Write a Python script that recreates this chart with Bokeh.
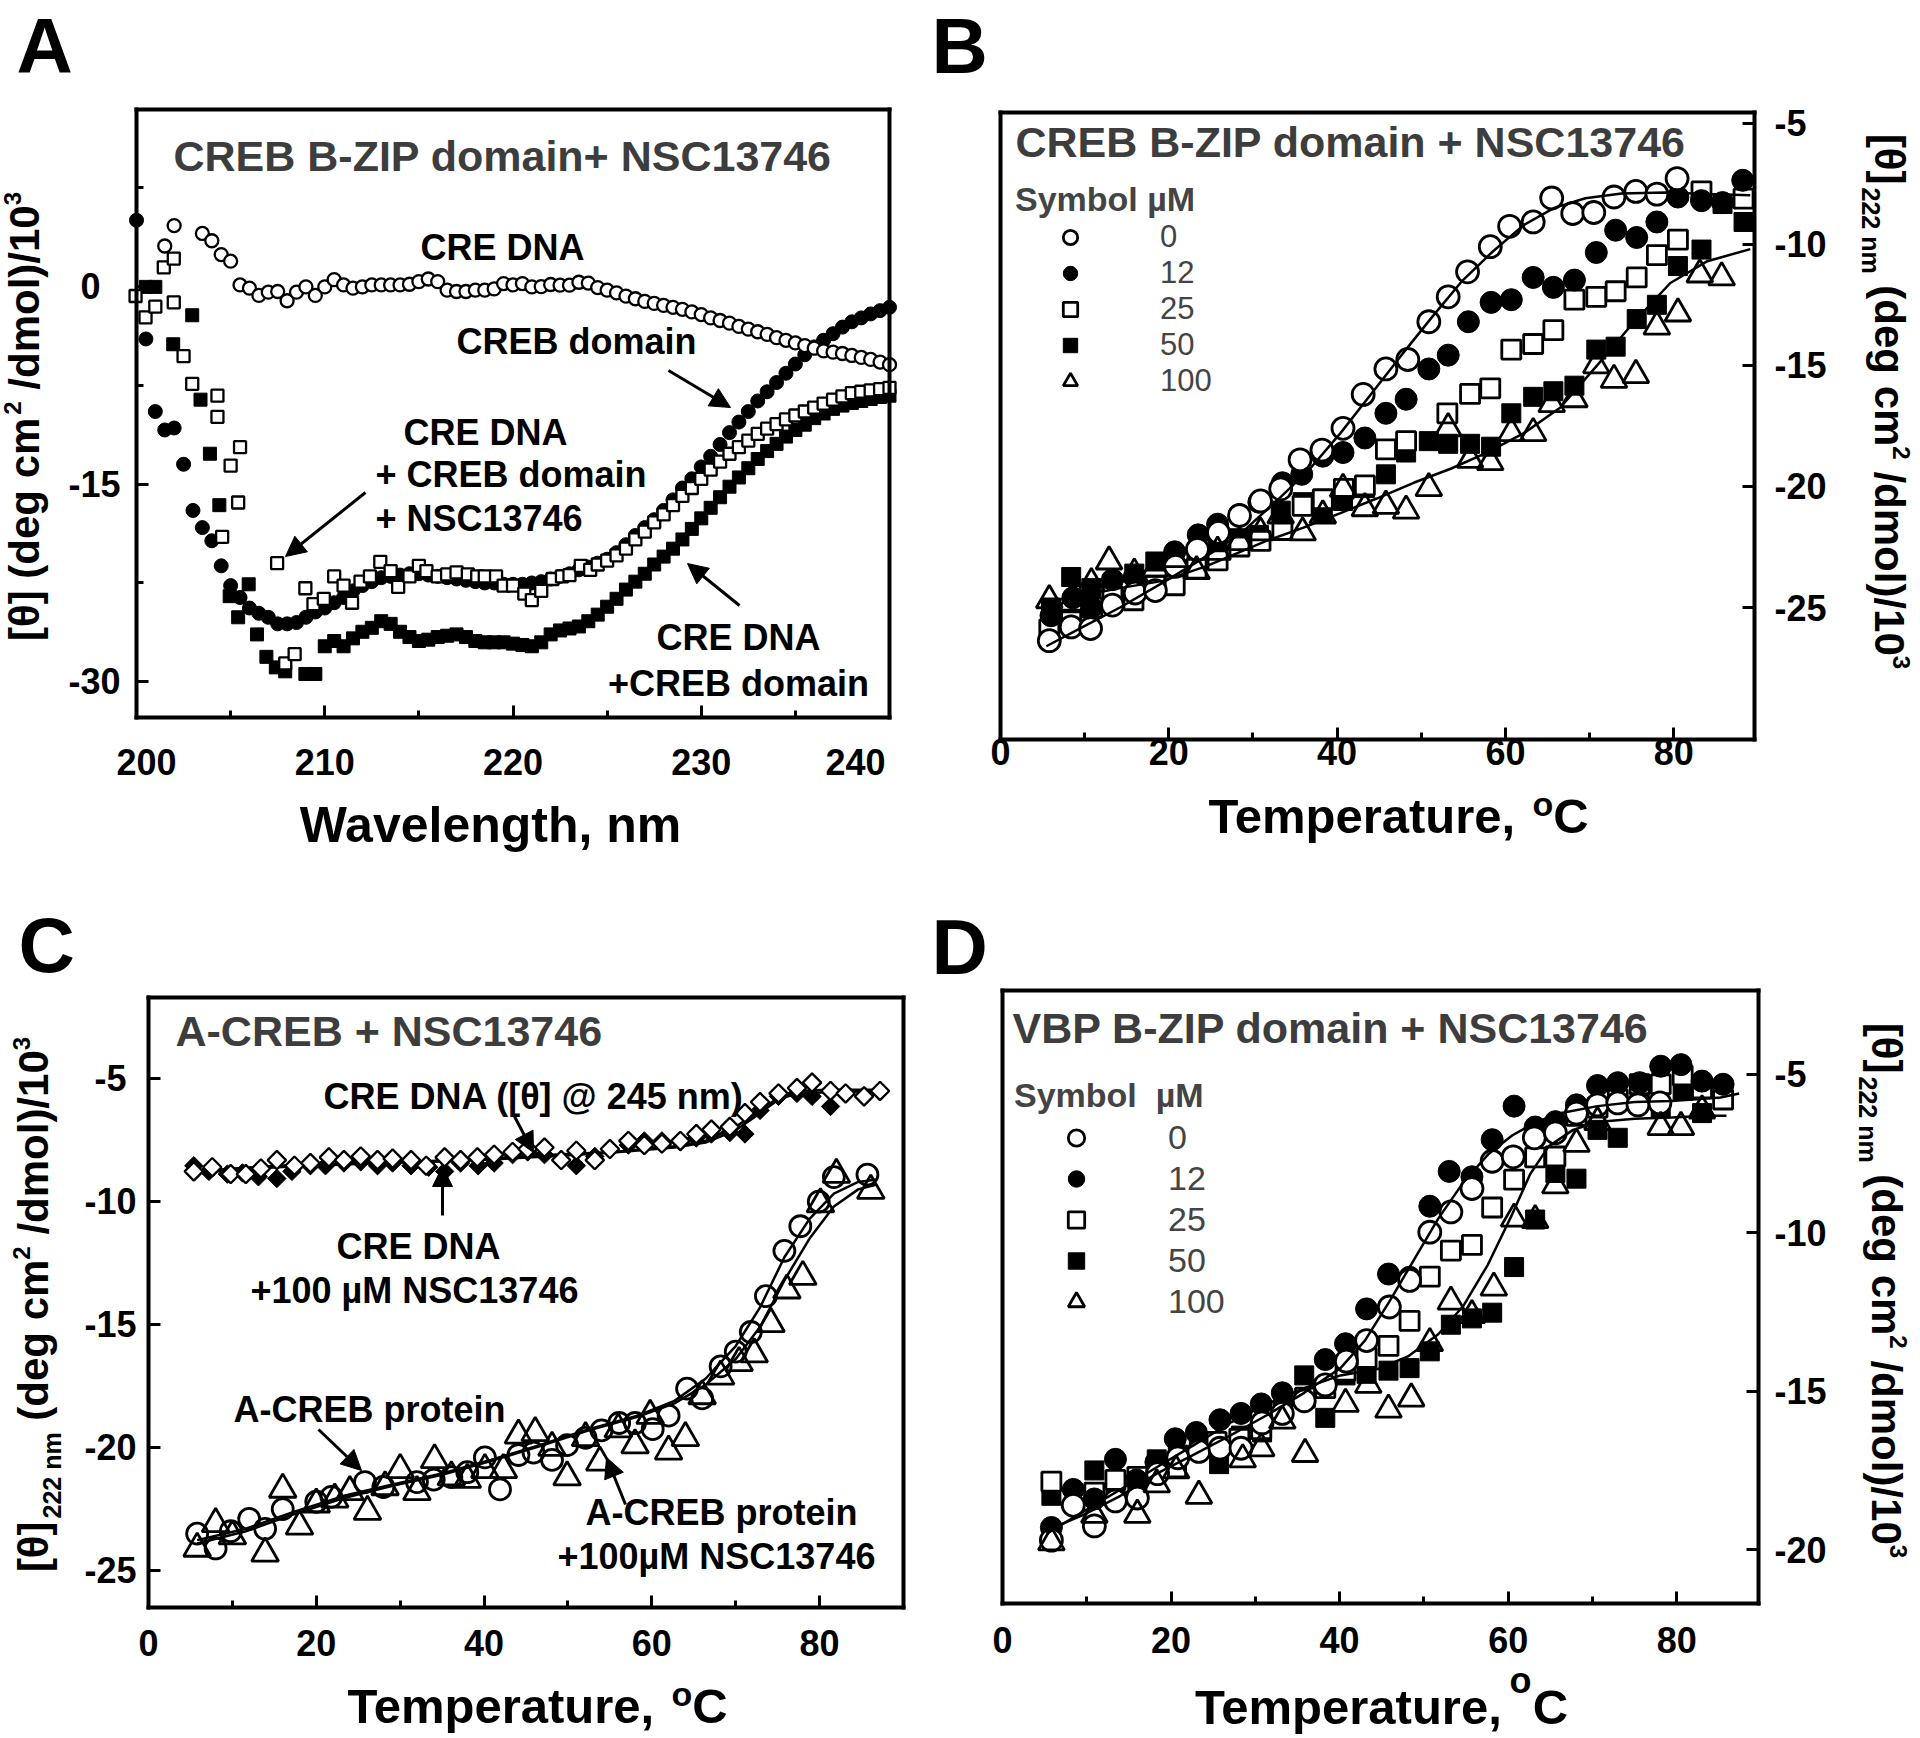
from bokeh.plotting import figure
from bokeh.models import (Range1d, FixedTicker, Label, Arrow, NormalHead, Legend, LegendItem, LinearAxis)
from bokeh.layouts import row, column
from bokeh.embed import file_html
from bokeh.resources import INLINE

FONT = "Liberation Sans"

# ---------------- Panel A data (wavelength scans) ----------------
A_dna_x = [201.5, 202.0, 203.5, 204.0, 204.5, 205.0, 205.5, 206.0, 206.5, 207.0, 207.5, 208.0, 208.5, 209.0,
           209.5, 210.0, 210.5, 211.0, 211.5, 212.0, 212.5, 213.0, 213.5, 214.0, 214.5, 215.0, 215.5, 216.0,
           216.5, 217.0, 217.5, 218.0, 218.5, 219.0, 219.5, 220.0, 220.5, 221.0, 221.5, 222.0, 222.5, 223.0,
           223.5, 224.0, 224.5, 225.0, 225.5, 226.0, 226.5, 227.0, 227.5, 228.0, 228.5, 229.0, 229.5, 230.0,
           230.5, 231.0, 231.5, 232.0, 232.5, 233.0, 233.5, 234.0, 234.5, 235.0, 235.5, 236.0, 236.5, 237.0,
           237.5, 238.0, 238.5, 239.0, 239.5, 240.0]
A_dna_y = [3.05, 4.6, 4.0, 3.45, 2.4, 1.9, 0.1, -0.15, -0.7, -0.45, -0.4, -1.1, -0.45, -0.05,
           -0.7, -0.05, 0.5, 0.1, -0.15, -0.05, 0.1, 0.1, 0.1, 0.1, 0.15, 0.35, 0.55, 0.35,
           -0.3, -0.4, -0.4, -0.3, -0.3, -0.2, 0.2, 0.1, 0.2, -0.05, -0.03, 0.13, 0.08, 0.08,
           0.3, 0.24, -0.1, -0.3, -0.5, -0.75, -0.95, -1.15, -1.3, -1.45, -1.6, -1.75, -1.95, -2.15,
           -2.4, -2.6, -2.8, -3.05, -3.25, -3.45, -3.65, -3.9, -4.1, -4.3, -4.5, -4.7, -4.9, -5.0,
           -5.1, -5.25, -5.4, -5.55, -5.75, -5.95]

A_creb_x = [200.0, 200.5, 201.0, 201.5, 202.0, 202.5, 203.0, 203.5, 204.0, 204.5, 205.0, 205.5, 206.0, 206.5,
            207.0, 207.5, 208.0, 208.5, 209.0, 209.5, 210.0, 210.5, 211.0, 211.5, 212.0, 212.5, 213.0, 213.5,
            214.0, 214.5, 215.0, 215.5, 216.0, 216.5, 217.0, 217.5, 218.0, 218.5, 219.0, 219.5, 220.0, 220.5,
            221.0, 221.5, 222.0, 222.5, 223.0, 223.5, 224.0, 224.5, 225.0, 225.5, 226.0, 226.5, 227.0, 227.5,
            228.0, 228.5, 229.0, 229.5, 230.0, 230.5, 231.0, 231.5, 232.0, 232.5, 233.0, 233.5, 234.0, 234.5,
            235.0, 235.5, 236.0, 236.5, 237.0, 237.5, 238.0, 238.5, 239.0, 239.5, 240.0]
A_creb_y = [5.0, -4.0, -9.5, -10.9, -10.75, -13.5, -17.0, -18.3, -19.3, -21.2, -22.7, -23.6, -24.4, -24.8,
            -25.1, -25.6, -25.6, -25.5, -25.1, -24.7, -24.4, -24.0, -23.6, -23.1, -22.7, -22.4, -22.1, -22.0,
            -21.9, -21.8, -21.8, -21.9, -22.0, -22.1, -22.2, -22.3, -22.4, -22.5, -22.5, -22.6, -22.6, -22.6,
            -22.5, -22.4, -22.2, -22.0, -21.8, -21.5, -21.3, -21.0, -20.7, -20.2, -19.6, -18.9, -18.3, -17.7,
            -17.0, -16.2, -15.3, -14.6, -13.7, -12.9, -12.0, -11.1, -10.3, -9.5, -8.7, -8.0, -7.3, -6.6,
            -5.9, -5.2, -4.6, -4.1, -3.6, -3.1, -2.7, -2.4, -2.1, -1.85, -1.6]

A_nsc_x = [199.95, 200.48, 201.0, 201.45, 201.98, 201.98, 202.5, 202.96, 204.3, 204.3, 205.5, 205.0, 205.4,
           204.55, 207.47, 207.9, 208.4, 208.97, 209.4, 209.95, 210.5, 211.0, 211.45, 211.9, 212.4, 212.95,
           213.5, 213.9, 214.5, 215.0, 215.4, 216.0, 216.5, 217.0, 217.6, 218.1, 218.5, 219.1, 219.5, 220.0,
           220.6, 221.0, 221.5, 222.1, 222.6, 223.0, 223.6, 224.1, 224.5, 225.0, 225.5, 226.0, 226.5, 227.0,
           227.5, 228.0, 228.5, 229.0, 229.5, 230.0, 230.5, 231.0, 231.5, 232.0, 232.5, 233.0, 233.5, 234.0,
           234.5, 235.0, 235.5, 236.0, 236.5, 237.0, 237.5, 238.0, 238.5, 239.0, 239.5, 240.0]
A_nsc_y = [-0.74, -2.36, -1.55, 1.43, 2.1, -1.22, -5.3, -7.4, -8.3, -9.9, -12.2, -13.6, -16.4,
           -19.0, -21.0, -28.6, -27.9, -22.9, -24.1, -23.7, -22.0, -22.7, -24.0, -22.4, -22.0, -20.9,
           -21.6, -22.8, -22.0, -21.2, -21.6, -22.0, -21.85, -21.7, -21.85, -22.0, -22.0, -22.0, -22.7, -22.7,
           -23.3, -23.8, -23.1, -22.2, -22.0, -21.9, -21.2, -21.5, -21.1, -20.8, -20.4, -19.9, -19.2, -18.6,
           -17.9, -17.3, -16.6, -15.9, -15.3, -14.6, -13.9, -13.3, -12.7, -12.2, -11.7, -11.2, -10.8, -10.45,
           -10.1, -9.8, -9.5, -9.2, -8.9, -8.6, -8.35, -8.1, -8.0, -7.9, -7.8, -7.7]

A_dnacreb_x = [200.5, 201.0, 201.95, 202.96, 203.4, 203.9, 204.4, 204.95, 205.4, 205.96, 206.4, 206.9, 207.4,
               207.9, 208.97, 209.5, 210.0, 210.5, 211.0, 211.5, 212.0, 212.5, 213.0, 213.5, 214.0, 214.5,
               215.0, 215.5, 216.0, 216.5, 217.0, 217.5, 218.0, 218.5, 219.0, 219.5, 220.0, 220.5, 221.0,
               221.5, 222.0, 222.5, 223.0, 223.5, 224.0, 224.5, 225.0, 225.5, 226.0, 226.5, 227.0, 227.5,
               228.0, 228.5, 229.0, 229.5, 230.0, 230.5, 231.0, 231.5, 232.0, 232.5, 233.0, 233.5, 234.0,
               234.5, 235.0, 235.5, 236.0, 236.5, 237.0, 237.5, 238.0, 238.5, 239.0, 239.5, 240.0]
A_dnacreb_y = [-0.05, -0.05, -4.4, -2.2, -8.6, -12.7, -16.6, -23.5, -25.1, -22.6, -26.4, -28.1, -28.9,
               -29.2, -29.4, -29.4, -27.3, -26.9, -27.3, -26.7, -26.2, -25.9, -25.4, -25.6, -26.2, -26.6,
               -26.9, -26.8, -26.6, -26.5, -26.4, -26.6, -26.9, -27.0, -27.0, -27.0, -27.1, -27.2, -27.3,
               -27.0, -26.4, -26.1, -25.95, -25.8, -25.4, -24.9, -24.3, -23.7, -23.0, -22.4, -21.8, -21.1,
               -20.5, -19.9, -19.2, -18.4, -17.6, -16.8, -16.0, -15.2, -14.5, -13.8, -13.1, -12.5, -11.95,
               -11.4, -10.9, -10.5, -10.0, -9.65, -9.3, -9.05, -8.85, -8.7, -8.55, -8.4, -8.3]

# ---------------- Panel B data (CREB B-ZIP melts) ----------------
B_0_x = [5.8, 8.4, 10.7, 13.3, 16.0, 18.4, 20.8, 23.4, 25.9, 28.4, 30.9, 33.3, 35.6, 38.2, 40.7, 43.1,
         45.8, 48.4, 50.9, 53.2, 55.5, 58.2, 60.5, 63.3, 65.5, 68.0, 70.5, 72.9, 75.5, 78.0, 80.4]
B_0_y = [-26.37, -25.8, -25.87, -24.9, -24.4, -24.3, -23.3, -22.6, -21.9, -21.2, -20.6, -20.1, -18.9, -18.5,
         -17.6, -16.2, -15.15, -14.76, -13.2, -12.17, -11.14, -10.1, -9.26, -9.08, -8.09, -8.73, -8.69, -8.05,
         -7.82, -7.93, -7.29]
B_12_x = [6.0, 8.6, 10.8, 13.3, 15.9, 20.7, 23.5, 25.8, 28.4, 30.7, 33.5, 35.8, 38.3, 40.7, 43.3, 45.8, 48.2,
          50.9, 53.2, 55.6, 58.3, 60.7, 63.3, 65.7, 68.2, 70.8, 73.1, 75.6, 78.0, 80.5, 83.3, 85.8, 88.2]
B_12_y = [-25.34, -24.6, -25.0, -23.85, -23.74, -22.7, -22.0, -21.56, -21.17, -20.65, -19.85, -19.5, -18.75,
          -18.6, -18.0, -16.98, -16.4, -15.15, -14.58, -13.2, -12.4, -12.29, -11.37, -11.78, -11.48, -10.34,
          -9.42, -9.72, -9.08, -8.05, -8.2, -8.28, -7.36]
B_25_x = [5.8, 8.4, 10.9, 13.3, 15.8, 18.4, 20.7, 23.3, 25.8, 28.4, 30.9, 33.5, 35.9, 38.3, 40.8, 43.3, 45.8,
          48.2, 53.1, 55.8, 58.2, 60.7, 63.3, 65.7, 68.2, 70.8, 73.1, 75.6, 78.0, 80.5, 83.3, 88.3]
B_25_y = [-25.9, -25.57, -25.0, -24.54, -24.7, -24.1, -24.08, -23.4, -23.05, -22.48, -22.25, -21.8, -20.8,
          -20.53, -20.1, -19.96, -18.47, -18.13, -16.98, -16.18, -15.95, -14.35, -14.12, -13.55, -12.29, -12.17,
          -11.94, -11.37, -10.45, -9.81, -7.82, -8.12]
B_50_x = [6.0, 8.4, 10.8, 13.3, 15.9, 18.4, 20.7, 23.3, 25.8, 28.4, 30.7, 33.3, 35.9, 38.3, 40.7, 43.3, 45.8,
          48.2, 50.9, 53.2, 55.8, 58.3, 60.7, 63.3, 65.7, 68.2, 70.8, 73.1, 75.6, 78.0, 80.5, 83.3, 85.8, 88.3]
B_50_y = [-25.0, -23.74, -24.2, -24.0, -23.6, -23.1, -23.4, -22.8, -22.5, -22.14, -22.0, -21.0, -20.65, -21.1,
          -20.6, -20.07, -19.5, -18.6, -18.13, -18.24, -18.24, -18.36, -16.98, -16.3, -16.07, -15.84, -14.35,
          -14.23, -13.09, -12.5, -10.9, -10.22, -8.34, -9.08]
B_100_x = [5.8, 8.4, 10.8, 12.9, 15.9, 18.4, 20.7, 23.3, 25.8, 28.4, 30.9, 33.3, 35.9, 38.3, 40.7, 43.3, 45.8,
           48.2, 50.9, 53.2, 55.8, 58.2, 60.7, 63.3, 65.5, 68.2, 70.8, 72.9, 75.5, 78.0, 80.5, 83.1, 85.7]
B_100_y = [-24.7, -24.8, -24.0, -23.1, -23.6, -23.4, -23.0, -23.5, -22.7, -22.3, -21.9, -21.2, -21.9, -21.2,
           -20.1, -20.9, -20.8, -21.0, -20.07, -17.6, -18.9, -19.0, -17.8, -17.8, -16.6, -16.4, -15.0, -15.6,
           -15.4, -13.4, -12.86, -11.25, -11.37]
B_fit0_x = [5.45, 9.8, 14.2, 19.3, 24.4, 28.7, 33.1, 36.7, 40.4, 44.0, 47.6, 51.3, 54.9, 58.5, 62.2, 65.8,
            69.5, 73.8, 78.9, 84.0, 89.1]
B_fit0_y = [-26.6, -25.8, -25.0, -23.97, -22.9, -21.9, -20.5, -19.3, -17.8, -16.2, -14.6, -13.0, -11.5, -10.3,
            -9.2, -8.5, -8.1, -7.9, -7.86, -7.93, -7.98]
B_fit100_x = [5.45, 9.8, 14.2, 19.3, 24.4, 31.6, 36.0, 40.4, 44.7, 49.1, 53.5, 57.8, 62.2, 66.5, 70.9, 75.3,
              79.6, 84.0, 89.1]
B_fit100_y = [-24.77, -24.5, -24.2, -23.9, -23.3, -22.25, -21.7, -21.1, -20.5, -19.85, -19.27, -18.6, -17.8,
              -16.75, -15.0, -13.2, -11.6, -10.7, -10.2]

# ---------------- Panel C data (A-CREB melts) ----------------
C_dna_x = [5.4, 7.6, 9.8, 11.6, 13.4, 15.3, 17.4, 19.3, 21.5, 23.3, 25.3, 27.3, 29.1, 31.3, 33.1, 35.3, 37.2,
           39.2, 41.2, 43.4, 45.2, 47.2, 49.2, 51.0, 53.2, 55.0, 57.2, 59.1, 61.2, 63.4, 65.3, 67.1, 69.3, 71.1,
           72.9, 75.1, 77.3, 79.1, 81.3, 83.1, 85.3, 87.2]
C_dna_y = [-8.77, -8.6, -8.88, -8.88, -8.65, -8.31, -8.54, -8.43, -8.2, -8.31, -8.16, -8.31, -8.25, -8.31,
           -8.54, -8.2, -8.31, -8.2, -8.09, -7.98, -7.86, -7.8, -8.31, -7.93, -8.31, -7.86, -7.53, -7.7, -7.64,
           -7.53, -7.25, -7.07, -6.96, -6.4, -5.95, -5.6, -5.38, -5.16, -5.5, -5.6, -5.72, -5.5]
C_dnansc_x = [5.4, 7.2, 9.4, 11.2, 13.1, 15.3, 17.1, 19.3, 21.1, 23.3, 25.3, 27.3, 29.1, 31.3, 33.4, 35.3,
              37.2, 39.3, 41.2, 43.4, 45.2, 47.2, 51.0, 53.2, 55.0, 57.2, 59.1, 61.2, 63.4, 65.3, 67.1, 69.3,
              71.1, 72.9, 75.1, 77.3, 79.1, 81.3]
C_dnansc_y = [-8.54, -8.77, -8.88, -8.83, -8.99, -9.06, -8.77, -8.54, -8.54, -8.43, -8.38, -8.54, -8.43, -8.54,
              -8.6, -8.77, -8.43, -8.54, -8.43, -8.09, -7.98, -8.09, -8.54, -8.16, -7.86, -7.7, -7.53, -7.53,
              -7.57, -7.41, -7.25, -7.19, -7.25, -6.29, -5.72, -5.6, -5.72, -6.13]
C_ac_x = [5.8, 8.0, 9.8, 12.0, 13.9, 16.0, 20.0, 21.8, 25.8, 28.0, 32.0, 34.0, 36.1, 38.0, 40.1, 41.9, 44.1,
          45.9, 48.1, 49.9, 52.1, 54.0, 56.1, 58.0, 60.1, 62.0, 64.2, 66.0, 68.2, 70.0, 71.8, 73.6, 75.8, 77.7,
          79.9, 81.7, 85.7]
C_ac_y = [-23.5, -24.1, -23.4, -22.9, -23.3, -22.5, -22.2, -22.0, -21.4, -21.6, -21.4, -21.3, -21.2, -21.0,
          -20.4, -21.7, -20.3, -20.2, -20.5, -19.9, -19.6, -19.3, -19.0, -19.0, -19.25, -18.7, -17.6, -18.0,
          -16.7, -16.1, -15.3, -13.84, -12.0, -11.0, -10.0, -9.0, -8.9]
C_acn_x = [5.8, 8.0, 10.0, 13.9, 16.0, 18.0, 20.0, 22.2, 24.0, 26.1, 28.2, 30.0, 32.0, 34.1, 36.1, 38.0, 40.1,
           42.3, 44.1, 46.1, 48.1, 49.9, 52.1, 53.8, 56.0, 58.0, 59.8, 62.0, 64.0, 66.0, 68.2, 70.4, 72.2, 74.2,
           76.1, 78.0, 80.1, 82.0, 86.1]
C_acn_y = [-24.1, -23.1, -23.6, -24.3, -21.7, -23.2, -22.3, -22.1, -21.8, -22.6, -21.6, -20.9, -21.8, -20.5,
           -21.2, -21.3, -20.9, -20.9, -19.5, -19.4, -20.0, -21.2, -19.6, -20.6, -19.25, -19.9, -18.7, -20.15,
           -19.6, -17.9, -17.1, -16.55, -16.2, -14.97, -13.6, -13.05, -10.1, -8.9, -9.55]
C_fitdna_x = [5.0, 15.3, 26.2, 37.2, 48.1, 55.4, 62.7, 66.4, 70.0, 72.9, 75.1, 77.3, 80.9, 87.5]
C_fitdna_y = [-8.77, -8.54, -8.43, -8.31, -8.09, -7.98, -7.75, -7.53, -6.96, -6.29, -5.77, -5.5, -5.45, -5.45]
C_fitdnansc_y = [-8.85, -8.6, -8.45, -8.35, -8.15, -8.0, -7.8, -7.6, -7.1, -6.4, -5.85, -5.6, -5.55, -5.5]
C_fitac_x = [5.8, 11.6, 17.4, 23.3, 29.1, 35.0, 40.8, 46.6, 52.5, 58.3, 62.7, 66.4, 70.0, 72.9, 75.8, 78.8,
             81.7, 84.6, 86.8]
C_fitac_y = [-23.76, -23.3, -22.6, -21.96, -21.5, -21.05, -20.5, -19.9, -19.25, -18.7, -18.1, -17.2, -15.87,
             -14.3, -12.26, -10.7, -9.67, -9.2, -9.1]
C_fitacn_y = [-23.9, -23.4, -22.7, -22.05, -21.55, -21.1, -20.55, -19.95, -19.3, -18.75, -18.2, -17.45, -16.4,
              -15.1, -13.2, -11.5, -10.2, -9.5, -9.3]

# ---------------- Panel D data (VBP B-ZIP melts) ----------------
D_0_x = [5.8, 8.4, 10.9, 13.4, 16.0, 18.4, 20.8, 23.3, 25.8, 28.3, 30.8, 33.2, 35.8, 38.3, 40.8, 43.2, 45.9,
         48.3, 50.7, 53.2, 55.7, 58.1, 60.6, 63.1, 65.6, 68.1, 70.6, 73.0, 75.4, 78.0]
D_0_y = [-19.7, -18.6, -19.25, -18.46, -18.37, -17.6, -17.1, -16.9, -16.8, -16.8, -16.0, -15.7, -15.3, -14.8,
         -14.05, -13.4, -12.34, -11.5, -9.98, -9.34, -8.6, -7.74, -7.6, -7.0, -6.84, -6.22, -5.96, -5.9, -5.96,
         -5.9]
D_12_x = [5.8, 8.4, 10.9, 13.4, 15.9, 18.2, 20.5, 23.0, 25.8, 28.3, 30.7, 33.2, 38.3, 40.7, 43.2, 45.8, 48.3,
          50.7, 53.0, 55.7, 58.1, 60.7, 63.2, 65.6, 68.1, 70.6, 73.0, 75.6, 78.1, 80.5, 83.0, 85.5]
D_12_y = [-19.3, -18.1, -18.4, -17.15, -17.8, -17.24, -16.5, -16.3, -15.9, -15.7, -15.4, -15.05, -14.0, -13.5,
          -12.4, -11.3, -11.4, -9.16, -8.06, -8.23, -7.06, -6.0, -6.66, -6.49, -5.96, -5.35, -5.26, -5.26,
          -4.74, -4.69, -5.21, -5.31]
D_25_x = [5.8, 10.9, 13.4, 16.0, 20.6, 25.4, 28.1, 30.7, 35.9, 38.3, 40.7, 43.2, 45.8, 48.3, 50.7, 53.2, 55.7,
          58.1, 60.7, 63.2, 65.6, 68.1, 70.6, 73.0, 75.6, 78.1, 80.7, 83.0, 85.5]
D_25_y = [-17.85, -18.2, -17.8, -17.7, -17.4, -16.6, -16.5, -16.2, -15.2, -14.9, -14.35, -13.95, -13.57, -12.78,
          -11.38, -10.56, -10.38, -9.2, -8.32, -7.62, -7.59, -6.31, -6.05, -5.79, -5.31, -5.31, -5.03, -5.44,
          -5.79]
D_50_x = [5.8, 10.9, 13.4, 16.0, 18.3, 20.8, 23.3, 25.7, 28.3, 30.8, 33.3, 35.8, 38.3, 40.7, 43.2, 45.8, 48.3,
          50.7, 53.2, 55.7, 58.1, 60.7, 63.2, 65.6, 68.1, 70.6, 73.0, 75.6, 78.1, 80.7, 83.0]
D_50_y = [-18.3, -17.5, -18.2, -17.9, -17.15, -17.0, -16.8, -17.3, -16.4, -16.3, -15.6, -14.5, -15.84, -14.5,
          -14.45, -14.35, -14.27, -13.74, -12.9, -12.7, -12.52, -11.08, -9.58, -8.11, -8.29, -6.75, -7.0, -5.61,
          -6.05, -5.52, -6.22]
D_100_x = [5.8, 10.9, 16.0, 18.3, 20.6, 23.3, 28.5, 30.7, 33.2, 35.9, 40.7, 43.4, 45.8, 48.5, 50.7, 53.2, 55.7,
           58.3, 60.7, 63.2, 65.6, 68.1, 70.6, 78.1, 80.5, 83.0]
D_100_y = [-19.77, -18.9, -18.9, -17.94, -17.5, -18.3, -17.15, -16.8, -15.93, -16.98, -15.4, -14.8, -15.58,
           -15.23, -13.48, -12.17, -12.6, -11.73, -9.55, -9.6, -8.5, -7.19, -6.5, -6.66, -6.66, -6.14]
D_fit0_x = [5.2, 9.6, 14.0, 18.3, 22.7, 27.0, 31.4, 35.8, 40.1, 43.0, 45.9, 48.8, 51.7, 54.7, 57.6, 60.5, 63.4,
            66.3, 70.6, 75.0, 79.4, 85.2, 87.4]
D_fit0_y = [-19.4, -18.9, -18.3, -17.6, -17.0, -16.4, -15.75, -15.05, -14.27, -13.4, -12.17, -10.86, -9.55,
            -8.4, -7.53, -6.92, -6.49, -6.22, -6.0, -5.87, -5.84, -5.73, -5.6]
D_fit100_x = [5.2, 9.6, 14.0, 18.3, 22.7, 27.0, 31.4, 35.8, 40.1, 44.5, 48.1, 51.7, 54.7, 57.6, 60.5, 62.6,
              64.8, 67.7, 70.6, 75.0, 79.4, 83.7, 85.9]
D_fit100_y = [-19.5, -18.8, -18.1, -17.4, -16.7, -16.0, -15.4, -14.9, -14.5, -14.3, -13.9, -13.2, -12.3, -11.0,
              -9.4, -8.15, -7.27, -6.75, -6.5, -6.4, -6.36, -6.3, -6.3]

LEGEND_LABELS = ["0", "12", "25", "50", "100"]

# ---------------- text metrics (Arial/Liberation bold, per 1000 em) ----------------
_W = {" ": 278, "!": 333, "(": 333, ")": 333, "+": 584, ",": 278, "-": 333, ".": 278, "/": 278, ":": 333,
      "@": 975, "[": 333, "]": 333, "\u03b8": 611, "\u00b5": 611, "\u00b0": 400}
for ch in "0123456789":
    _W[ch] = 556
_W.update(dict(zip("ABCDEFGHIJKLMNOPQRSTUVWXYZ",
                   [722, 722, 722, 722, 667, 611, 778, 722, 278, 556, 722, 611, 833, 722, 778, 667, 778, 722,
                    667, 611, 722, 667, 944, 667, 667, 611])))
_W.update(dict(zip("abcdefghijklmnopqrstuvwxyz",
                   [556, 611, 556, 611, 556, 333, 611, 611, 278, 278, 556, 278, 889, 611, 611, 611, 611, 389,
                    556, 333, 611, 556, 778, 556, 556, 500])))


def tw(s, size):
    return sum(_W.get(c, 556) for c in s) * size / 1000.0


NB = "\u00a0"
TITLE_COLOR = "#3d3d3d"


def style_axis(ax):
    ax.axis_line_width = 4
    ax.axis_line_color = "black"
    ax.axis_line_cap = "square"
    ax.major_tick_in = 12
    ax.major_tick_out = 0
    ax.minor_tick_in = 7
    ax.minor_tick_out = 0
    ax.major_tick_line_width = 3
    ax.minor_tick_line_width = 3
    ax.major_label_text_font = FONT
    ax.major_label_text_font_style = "bold"
    ax.major_label_text_font_size = "36px"
    ax.major_label_text_color = "black"


class Panel:
    """A figure whose frame is the whole figure; the boxed plot is drawn with fixed-location axes."""

    def __init__(self, area, box, xr, yr):
        fx0, fy0, fx1, fy1 = area
        L, R, T, B = box
        self.fx0, self.fy0 = fx0, fy0
        self.xr, self.yr = xr, yr
        self.kx = (xr[1] - xr[0]) / (R - L)
        self.ky = (yr[1] - yr[0]) / (B - T)
        self.X0 = xr[0] - (L - fx0) * self.kx
        X1 = xr[1] + (fx1 - R) * self.kx
        self.Y1 = yr[1] + (T - fy0) * self.ky
        Y0 = yr[0] - (fy1 - B) * self.ky
        p = figure(width=fx1 - fx0, height=fy1 - fy0, x_range=Range1d(self.X0, X1),
                   y_range=Range1d(Y0, self.Y1), output_backend="svg", toolbar_location=None,
                   x_axis_location=None, y_axis_location=None)
        p.min_border = 0
        p.min_border_left = 0
        p.min_border_right = 0
        p.min_border_top = 0
        p.min_border_bottom = 0
        p.title.visible = False
        p.grid.visible = False
        p.outline_line_color = None
        p.background_fill_color = "white"
        p.border_fill_color = "white"
        self.p = p

    def axes(self, xticker, yticker, yside, xover, yover, xstand, ystand):
        x0, x1 = self.xr
        y0, y1 = self.yr
        xb = LinearAxis(fixed_location=y0, bounds=(x0, x1), ticker=xticker)
        style_axis(xb)
        xb.major_label_overrides = xover
        xb.major_label_standoff = xstand
        self.p.add_layout(xb, "below")
        xt = LinearAxis(fixed_location=y1, bounds=(x0, x1), ticker=FixedTicker(ticks=[]))
        style_axis(xt)
        self.p.add_layout(xt, "above")
        ylab = LinearAxis(fixed_location=(x0 if yside == "left" else x1), bounds=(y0, y1), ticker=yticker)
        style_axis(ylab)
        ylab.major_label_overrides = yover
        ylab.major_label_standoff = ystand
        self.p.add_layout(ylab, yside)
        yo = LinearAxis(fixed_location=(x1 if yside == "left" else x0), bounds=(y0, y1), ticker=FixedTicker(ticks=[]))
        style_axis(yo)
        self.p.add_layout(yo, "right" if yside == "left" else "left")

    def d(self, px, py):
        return self.X0 + (px - self.fx0) * self.kx, self.Y1 - (py - self.fy0) * self.ky

    def text(self, px, py, s, size, align="left", color="black", style="bold", angle=0):
        x, y = self.d(px, py)
        self.p.add_layout(Label(x=x, y=y, text=s, text_font=FONT, text_font_size=f"{size}px",
                                text_font_style=style, text_color=color, text_align=align,
                                text_baseline="middle", angle=angle, angle_units="deg"))

    def rich(self, pieces, cx, cy, angle=0):
        # (cx, cy): middle of the whole string, on the centre line of the main text
        F = pieces[0][1]
        total = sum(tw(t, s) for t, s, _ in pieces)
        if angle == 0:
            adv, up = (1, 0), (0, -1)
        elif angle == 90:
            adv, up = (0, -1), (-1, 0)
        else:
            adv, up = (0, 1), (1, 0)
        pos = -total / 2.0
        for t, s, sh in pieces:
            lead = len(t) - len(t.lstrip(" "))
            pos += tw(" " * lead, s)
            body = t.strip(" ")
            off = sh + 0.35 * s - 0.35 * F
            if body:
                qx = cx + adv[0] * pos + up[0] * off
                qy = cy + adv[1] * pos + up[1] * off
                self.text(qx, qy, body, s, angle=angle)
            pos += tw(t.lstrip(" "), s)

    def arrow(self, x0, y0, x1, y1):
        a = self.d(x0, y0)
        b = self.d(x1, y1)
        self.p.add_layout(Arrow(x_start=a[0], y_start=a[1], x_end=b[0], y_end=b[1], line_width=3,
                                line_color="black",
                                end=NormalHead(size=20, fill_color="black", line_color="black", line_width=1)))


def hy(vals):
    return {v: (str(v) if v >= 0 else "-" + str(abs(v))) for v in vals}


YLAB_PIECES = [("[\u03b8]", 42, 0), ("222 nm", 25, -13), (" (deg cm", 42, 0), ("2", 24, 18),
               (" /dmol)/10", 42, 0), ("3", 24, 18)]
TEMP_PIECES = [("Temperature, ", 49, 0), ("o", 34, 17), ("C", 49, 0)]

SPLIT = 925  # column boundary between the left and right panels

# ======================= Panel A =======================
A = Panel((0, 0, SPLIT, 869), (136, 889, 109, 717), (200.0, 240.0), (-32.7, 13.4))
pa = A.p
A.axes(FixedTicker(ticks=[200, 210, 220, 230, 240], minor_ticks=[205, 215, 225, 235]),
       FixedTicker(ticks=[-30, -15, 0], minor_ticks=[-22.5, -7.5, 7.5]), "left",
       {200: NB + NB + "200", 210: "210", 220: "220", 230: "230", 240: "240" + NB * 4},
       {-30: "-30", -15: "-15", 0: "0" + NB + NB}, 24, 16)

pa.scatter(A_creb_x, A_creb_y, marker="circle", size=14, fill_color="black", line_color="black", line_width=1)
pa.scatter(A_dnacreb_x, A_dnacreb_y, marker="square", size=13, fill_color="black", line_color="black", line_width=1)
pa.scatter(A_nsc_x, A_nsc_y, marker="square", size=12, fill_color="white", line_color="black", line_width=2.3)
pa.scatter(A_dna_x, A_dna_y, marker="circle", size=13, fill_color="white", line_color="black", line_width=2.3)

A.text(16, 45, "A", 78)
A.text(173, 155, "CREB B-ZIP domain+ NSC13746", 43, color=TITLE_COLOR)
A.text(502, 247, "CRE DNA", 36, align="center")
A.text(576, 341, "CREB domain", 36, align="center")
A.text(485, 432, "CRE DNA", 36, align="center")
A.text(375, 474, "+ CREB domain", 36)
A.text(375, 518, "+ NSC13746", 36)
A.text(738, 637, "CRE DNA", 36, align="center")
A.text(738, 683, "+CREB domain", 36, align="center")
A.arrow(668, 370, 730, 407)
A.arrow(365, 492, 285, 556)
A.arrow(739, 605, 687, 563)
A.text(490, 824, "Wavelength, nm", 50, align="center")
A.rich([("[\u03b8] (deg cm", 42, 0), ("2", 24, 18), (" /dmol)/10", 42, 0), ("3", 24, 18)], 24, 416, angle=90)

# ======================= Panel B =======================
Bp = Panel((SPLIT, 0, 1918, 869), (1000, 1754, 112, 739), (0.0, 89.6), (-30.45, -4.56))
pb = Bp.p
Bp.axes(FixedTicker(ticks=[0, 20, 40, 60, 80], minor_ticks=[10, 30, 50, 70]),
        FixedTicker(ticks=[-25, -20, -15, -10, -5]), "right", {}, hy([-25, -20, -15, -10, -5]), -1, 20)

rb50 = pb.scatter(B_50_x, B_50_y, marker="square", size=19, fill_color="black", line_color="black", line_width=1)
rb25 = pb.scatter(B_25_x, B_25_y, marker="square", size=19, fill_color="white", line_color="black", line_width=2.8)
rb12 = pb.scatter(B_12_x, B_12_y, marker="circle", size=22, fill_color="black", line_color="black", line_width=1)
rb0 = pb.scatter(B_0_x, B_0_y, marker="circle", size=22, fill_color="white", line_color="black", line_width=2.8)
rb100 = pb.scatter(B_100_x, B_100_y, marker="triangle", size=26, fill_alpha=0, line_color="black", line_width=2.8)
pb.line(B_fit0_x, B_fit0_y, line_color="black", line_width=2.5)
pb.line(B_fit100_x, B_fit100_y, line_color="black", line_width=2.5)

legB = Legend(items=[LegendItem(label=l, renderers=[r]) for l, r in zip(LEGEND_LABELS, [rb0, rb12, rb25, rb50, rb100])],
              location=(1015 - SPLIT, 470), title="Symbol \u00b5M", title_text_font=FONT, title_text_font_size="34px",
              title_text_font_style="bold", title_standoff=0, label_text_font=FONT, label_text_font_size="31px",
              label_text_font_style="normal", glyph_width=110, glyph_height=36, label_height=36, spacing=0,
              padding=0, margin=0, label_standoff=35, border_line_alpha=0, background_fill_alpha=0)
pb.add_layout(legB)

Bp.text(931, 45, "B", 78)
Bp.text(1015, 141, "CREB B-ZIP domain + NSC13746", 43, color=TITLE_COLOR)
Bp.rich(TEMP_PIECES, 1398, 815)
Bp.rich(YLAB_PIECES, 1889, 401, angle=-90)

# ======================= Panel C =======================
Cp = Panel((0, 869, SPLIT, 1736), (148, 903, 997, 1607), (0.0, 90.0), (-26.5, -1.7))
pc = Cp.p
Cp.axes(FixedTicker(ticks=[0, 20, 40, 60, 80], minor_ticks=[10, 30, 50, 70]),
        FixedTicker(ticks=[-25, -20, -15, -10, -5]), "left", {},
        {-25: "-25", -20: "-20", -15: "-15", -10: "-10", -5: "-5" + NB}, 22, 12)

pc.line(C_fitdna_x, C_fitdna_y, line_color="black", line_width=2.5)
pc.line(C_fitdna_x, C_fitdnansc_y, line_color="black", line_width=2.5)
pc.line(C_fitac_x, C_fitac_y, line_color="black", line_width=2.5)
pc.line(C_fitac_x, C_fitacn_y, line_color="black", line_width=2.5)
pc.scatter(C_dnansc_x, C_dnansc_y, marker="square", angle=0.785398, size=13, fill_color="black",
           line_color="black", line_width=1)
pc.scatter(C_dna_x, C_dna_y, marker="square", angle=0.785398, size=13, fill_color="white",
           line_color="black", line_width=2.3)
pc.scatter(C_ac_x, C_ac_y, marker="circle", size=21, fill_alpha=0, line_color="black", line_width=2.8)
pc.scatter(C_acn_x, C_acn_y, marker="triangle", size=27, fill_alpha=0, line_color="black", line_width=2.8)

Cp.text(18, 944, "C", 78)
Cp.text(175, 1030, "A-CREB + NSC13746", 43, color=TITLE_COLOR)
Cp.text(323, 1096, "CRE DNA ([\u03b8] @ 245 nm)", 36)
Cp.text(418, 1246, "CRE DNA", 36, align="center")
Cp.text(250, 1290, "+100 \u00b5M NSC13746", 36)
Cp.text(233, 1409, "A-CREB protein", 36)
Cp.text(585, 1512, "A-CREB protein", 36)
Cp.text(557, 1556, "+100\u00b5M NSC13746", 36)
Cp.arrow(514, 1116, 533, 1152)
Cp.arrow(442, 1215, 442, 1166)
Cp.arrow(318, 1429, 361, 1470)
Cp.arrow(625, 1504, 606, 1457)
Cp.rich(TEMP_PIECES, 537, 1705)
Cp.rich(YLAB_PIECES, 33, 1304, angle=90)

# ======================= Panel D =======================
Dp = Panel((SPLIT, 869, 1918, 1736), (1002, 1758, 990, 1603), (0.0, 89.7), (-21.7, -2.35))
pd_ = Dp.p
Dp.axes(FixedTicker(ticks=[0, 20, 40, 60, 80], minor_ticks=[10, 30, 50, 70]),
        FixedTicker(ticks=[-20, -15, -10, -5]), "right", {}, hy([-20, -15, -10, -5]), 23, 16)

rd50 = pd_.scatter(D_50_x, D_50_y, marker="square", size=19, fill_color="black", line_color="black", line_width=1)
rd25 = pd_.scatter(D_25_x, D_25_y, marker="square", size=19, fill_color="white", line_color="black", line_width=2.8)
rd12 = pd_.scatter(D_12_x, D_12_y, marker="circle", size=22, fill_color="black", line_color="black", line_width=1)
rd0 = pd_.scatter(D_0_x, D_0_y, marker="circle", size=22, fill_color="white", line_color="black", line_width=2.8)
rd100 = pd_.scatter(D_100_x, D_100_y, marker="triangle", size=26, fill_alpha=0, line_color="black", line_width=2.8)
pd_.line(D_fit0_x, D_fit0_y, line_color="black", line_width=2.5)
pd_.line(D_fit100_x, D_fit100_y, line_color="black", line_width=2.5)

legD = Legend(items=[LegendItem(label=l, renderers=[r]) for l, r in zip(LEGEND_LABELS, [rd0, rd12, rd25, rd50, rd100])],
              location=(1014 - SPLIT, 414), title="Symbol" + NB + " \u00b5M", title_text_font=FONT,
              title_text_font_size="34px", title_text_font_style="bold", title_standoff=2, label_text_font=FONT,
              label_text_font_size="34px", label_text_font_style="normal", glyph_width=124, glyph_height=41,
              label_height=41, spacing=0, padding=0, margin=0, label_standoff=30, border_line_alpha=0,
              background_fill_alpha=0)
pd_.add_layout(legD)

Dp.text(931, 946, "D", 78)
Dp.text(1012, 1027, "VBP B-ZIP domain + NSC13746", 43, color=TITLE_COLOR)
Dp.rich([("Temperature,  ", 49, 0), ("C", 49, 0)], 1381, 1706)
Dp.text(1520, 1680, "o", 36, align="center")
Dp.rich(YLAB_PIECES, 1886, 1290, angle=-90)

layout = column(row(pa, pb), row(pc, pd_))
open("out.html", "w").write(file_html(layout, INLINE))
